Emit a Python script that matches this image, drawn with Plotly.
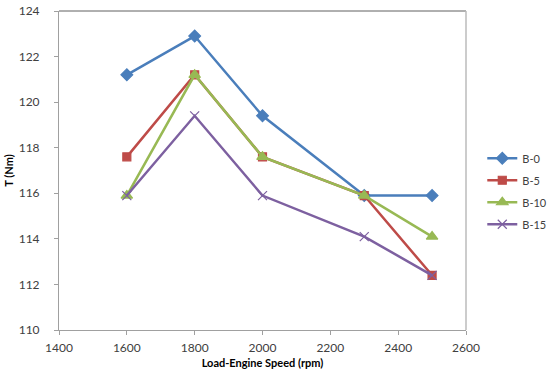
import plotly.graph_objects as go

speeds = [1600, 1800, 2000, 2300, 2500]
b0 = [121.2, 122.9, 119.4, 115.9, 115.9]
b5 = [117.6, 121.2, 117.6, 115.9, 112.4]
b10 = [115.9, 121.2, 117.6, 115.9, 114.1]
b15 = [115.9, 119.4, 115.9, 114.1, 112.4]
names = ["B-0", "B-5", "B-10", "B-15"]
colors = ["#4A7EBB", "#BE4B48", "#98B954", "#7D60A0"]
symbols = ["diamond", "square", "triangle-up", "x-thin"]
sizes = [9, 8, 10, 9]

fig = go.Figure()
for name, vals, c, s, sz in zip(names, [b0, b5, b10, b15], colors, symbols, sizes):
    fig.add_trace(go.Scatter(
        x=speeds, y=vals, name=name, mode="lines+markers", legendgroup=name,
        line=dict(color=c, width=2.5),
        marker=dict(symbol=s, size=sz, color=c, line=dict(color=c, width=1.2)),
    ))

axis_common = dict(
    showgrid=False, zeroline=False, showline=True, linecolor="#A0A0A0", linewidth=1,
    ticks="outside", ticklen=4, tickcolor="#A0A0A0", mirror=False,
    tickfont=dict(family="Lato, Carlito, Liberation Sans", size=12, color="#404040"),
)
fig.update_xaxes(range=[1400, 2600], dtick=200, **axis_common, ticklabelstandoff=3,
                 title=dict(text="<b>Load-Engine Speed (rpm)</b>", font=dict(family="Lato, Liberation Sans", size=11, color="#000"), standoff=4))
fig.update_yaxes(range=[110, 124], dtick=2, **axis_common, ticklabelstandoff=12,
                 title=dict(text="<b>T (Nm)</b>", font=dict(family="Lato, Liberation Sans", size=11, color="#000"), standoff=2))

fig.add_shape(type="line", xref="paper", yref="paper", x0=0, x1=1, y0=1, y1=1, line=dict(color="#606060", width=1))
fig.add_shape(type="line", xref="paper", yref="paper", x0=1, x1=1, y0=0, y1=1, line=dict(color="#BBBBBB", width=1.5))

fig.update_layout(
    width=552, height=372, plot_bgcolor="white", paper_bgcolor="white",
    margin=dict(l=59, r=86, t=11, b=42, autoexpand=False),
    showlegend=True,
    legend=dict(x=1.04, y=0.435, xanchor="left", yanchor="middle",
                font=dict(family="Lato, Liberation Sans", size=11, color="#404040"),
                tracegroupgap=3),
)
fig.write_html("out.html")
